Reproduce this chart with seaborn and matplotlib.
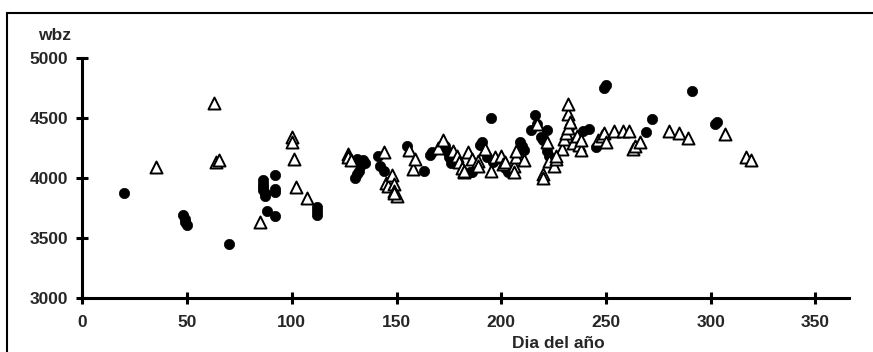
import numpy as np
import pandas as pd
import seaborn as sns
from matplotlib import pyplot as plt
from matplotlib.patches import Rectangle

# serie 1 (circulos negros)
dia_circ = [20, 48, 49, 49, 50, 70, 86, 86, 86, 86, 87, 87, 88, 92, 92, 92, 92,
            112, 112, 112, 130, 131, 132, 133, 134, 135, 131, 141, 142, 144,
            155, 163, 166, 167, 173, 174, 175, 176, 185, 186, 190, 191, 195,
            193, 196, 202, 203, 209, 210, 211, 214, 216, 217, 219, 220, 222,
            222, 223, 233, 239, 242, 245, 249, 250, 269, 272, 291, 302, 303]
wbz_circ = [3875, 3690, 3660, 3635, 3610, 3450, 3980, 3950, 3920, 3895, 3870, 3850, 3720,
            4025, 3910, 3880, 3680, 3760, 3720, 3690, 4000, 4030, 4060, 4110, 4150, 4120,
            4160, 4180, 4100, 4060, 4265, 4060, 4190, 4215, 4260, 4220, 4170, 4120,
            4050, 4045, 4270, 4295, 4500, 4170, 4130, 4080, 4045, 4300, 4260, 4230,
            4400, 4520, 4450, 4340, 4310, 4400, 4220, 4180, 4430, 4385, 4405, 4255,
            4750, 4775, 4380, 4485, 4725, 4450, 4465]

# serie 2 (triangulos blancos)
dia_tri = [35, 63, 64, 65, 85, 100, 100, 101, 102, 107, 127, 127, 128,
           144, 145, 146, 148, 149, 149, 150, 149, 156, 158, 159, 170, 172,
           177, 179, 180, 181, 182, 182, 184, 186, 189, 189, 192, 195, 197, 200,
           201, 202, 206, 206, 207, 207, 211, 217, 220, 220, 222, 223, 225, 226,
           229, 226, 230, 231, 232, 232, 232, 233, 234, 236, 237, 238, 238,
           246, 248, 249, 250, 254, 258, 261, 263, 264, 266, 280, 285, 289,
           307, 317, 319]
wbz_tri = [4090, 4620, 4130, 4145, 3630, 4340, 4300, 4160, 3920, 3830, 4200, 4170, 4145,
           4215, 3960, 3930, 4020, 3950, 3890, 3850, 3870, 4230, 4075, 4155, 4250, 4310,
           4225, 4185, 4130, 4085, 4045, 4060, 4210, 4160, 4140, 4100, 4240, 4060, 4170, 4185,
           4115, 4130, 4100, 4045, 4170, 4225, 4150, 4450, 4030, 4000, 4300, 4140, 4100, 4160,
           4240, 4180, 4320, 4370, 4410, 4530, 4610, 4460, 4290, 4350, 4270, 4230, 4310,
           4310, 4350, 4375, 4300, 4390, 4390, 4385, 4240, 4265, 4300, 4390, 4370, 4330,
           4360, 4170, 4150]

x_ticks = [0, 50, 100, 150, 200, 250, 300, 350]
y_ticks = [3000, 3500, 4000, 4500, 5000]

sns.set_style('white')
plt.rcParams['font.family'] = ['Liberation Sans', 'DejaVu Sans']
plt.rcParams['font.weight'] = 'bold'

fig = plt.figure(figsize=(8.73, 3.52), dpi=100)
ax = fig.add_axes([82.4 / 873, (352 - 298) / 352, (849 - 82.4) / 873, (298 - 57.5) / 352])

circ = pd.DataFrame({'dia': dia_circ, 'wbz': wbz_circ})
tri = pd.DataFrame({'dia': dia_tri, 'wbz': wbz_tri})

sns.scatterplot(data=circ, x='dia', y='wbz', marker='o', s=55, color='black',
                edgecolor='black', linewidth=0.5, ax=ax, zorder=3, clip_on=False)
sns.scatterplot(data=tri, x='dia', y='wbz', marker='^', s=75, color='white',
                edgecolor='black', linewidth=1.4, ax=ax, zorder=4, clip_on=False)

ax.set_xlim(0, 366)
ax.set_ylim(3000, 5000)
ax.set_xticks(x_ticks)
ax.set_yticks(y_ticks)
ax.tick_params(bottom=True, left=True, direction='inout', length=8, width=2.2,
               labelsize=12.5, color='black', pad=8)
ax.tick_params(axis='y', pad=6)
for lab in ax.get_xticklabels() + ax.get_yticklabels():
    lab.set_fontweight('bold')

for side in ['top', 'right']:
    ax.spines[side].set_visible(False)
for side in ['left', 'bottom']:
    ax.spines[side].set_linewidth(2.2)
    ax.spines[side].set_color('black')

ax.set_xlabel('')
ax.set_ylabel('')
fig.text(558 / 873, 1 - 343 / 352, 'Dia del año', ha='center', va='center',
         fontsize=12.5, fontweight='bold')
fig.text(55 / 873, 1 - 35 / 352, 'wbz', ha='center', va='center',
         fontsize=12.5, fontweight='bold')

# marco de la figura
fig.patches.append(Rectangle((7 / 873, -0.2), 1.2, (352 - 13) / 352 + 0.2,
                             transform=fig.transFigure, fill=False,
                             edgecolor='black', linewidth=1.5))

fig.savefig('out.png', dpi=100)
